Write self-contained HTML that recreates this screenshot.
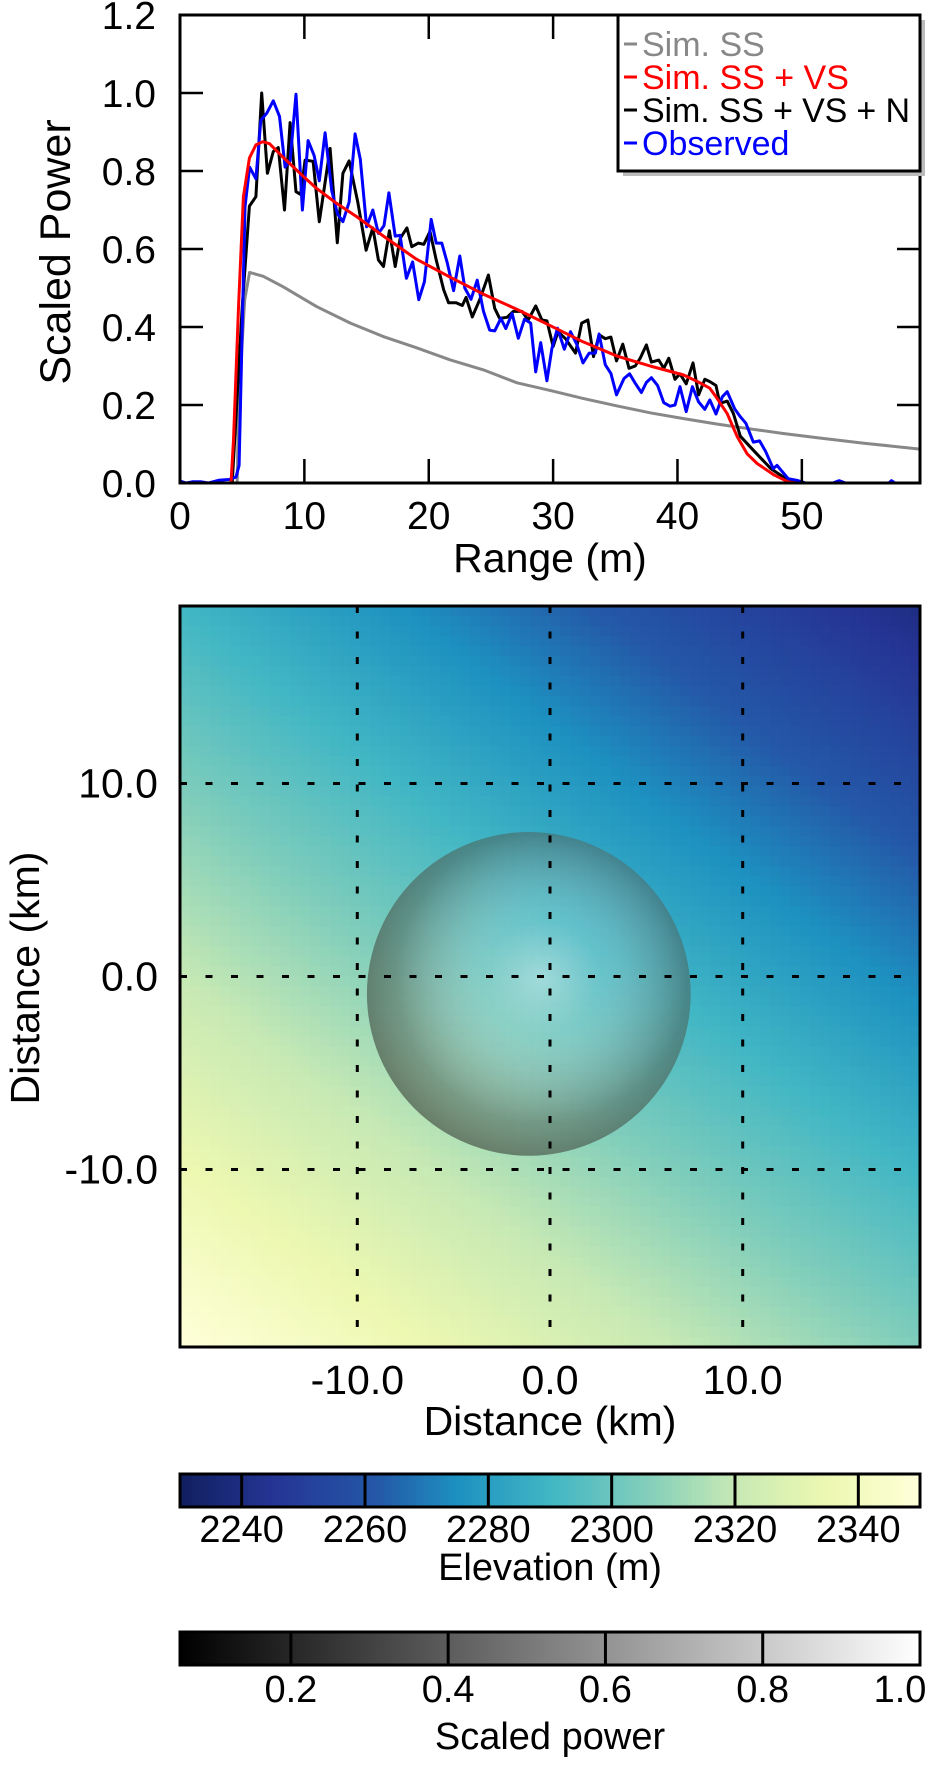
<!DOCTYPE html>
<html><head><meta charset="utf-8"><style>
html,body{margin:0;padding:0;background:#fff;}
svg{display:block;font-family:"Liberation Sans",Arial,sans-serif;}
</style></head><body>
<svg id="fig" width="948" height="1768" viewBox="0 0 948 1768" xmlns="http://www.w3.org/2000/svg">
<defs>
<clipPath id="topclip"><rect x="180" y="15" width="740" height="468"/></clipPath>
<clipPath id="mapclip"><rect x="180" y="606" width="740" height="741"/></clipPath>
<radialGradient id="sphere" cx="0.54" cy="0.45" r="0.6">
<stop offset="0" stop-color="#ffffff" stop-opacity="0.42"/>
<stop offset="0.3" stop-color="#d8e8e8" stop-opacity="0.2"/>
<stop offset="0.75" stop-color="#505a50" stop-opacity="0.5"/>
<stop offset="1" stop-color="#3e483e" stop-opacity="0.72"/>
</radialGradient>
<linearGradient id="cb2grad" x1="0" x2="1" y1="0" y2="0"><stop offset="0" stop-color="#000"/><stop offset="1" stop-color="#fff"/></linearGradient>
</defs>
<g id="topplot"></g>
<g id="mapplot"></g>
<g id="cbars"></g>
</svg>
<script>
// ---------- Top chart data ----------
const grayX=[0,4.6,4.7,5.2,5.6,6.7,8.3,11,13.7,16.4,19,21.7,24.4,27.1,29.8,32.4,35.1,37.8,40.5,43.2,45.8,48.5,51.5,55,59.5];
const grayY=[0,0,0.2,0.47,0.54,0.53,0.503,0.452,0.41,0.375,0.347,0.316,0.29,0.257,0.237,0.217,0.198,0.18,0.165,0.151,0.139,0.127,0.115,0.102,0.087];
const redX=[0,4.1,4.3,4.7,5.1,5.58,6.1,6.65,7.2,8.3,9.65,11,12.6,14.2,16.4,19,21.7,24.4,27.1,29.8,32.4,35.1,37.8,40.5,41.8,42.6,43.1,44,44.8,45.6,46.4,47.8,48.9,49.5];
const redY=[0,0,0.11,0.45,0.734,0.833,0.867,0.875,0.87,0.835,0.794,0.755,0.717,0.683,0.632,0.574,0.528,0.484,0.445,0.403,0.362,0.326,0.30,0.277,0.257,0.243,0.221,0.178,0.119,0.075,0.05,0.02,0.003,0];
const blackX=[0,4.2,5.0,5.58,6.1,6.57,7.03,7.5,7.9,8.4,8.85,9.33,9.7,10.06,10.7,11.2,12.07,12.65,13.1,13.6,14.3,14.96,15.5,15.95,16.36,16.84,17.3,17.7,18.24,18.64,19.17,19.6,20.1,20.6,21.2,21.6,22.2,22.7,23.0,23.5,24.1,24.8,25.3,25.7,26.3,26.8,27.5,28.0,28.6,29.1,29.5,30.0,30.4,31.0,31.8,32.3,32.8,33.25,33.7,34.2,34.65,35.1,35.6,36.1,36.6,37.0,37.5,37.9,38.5,38.9,39.3,39.8,40.2,40.7,41.25,41.7,42.2,42.6,43.1,43.4,44.0,44.5,45.05,46.1,47.5,48.9,49.5];
const blackY=[0,0,0.45,0.71,0.734,1.0,0.794,0.85,0.86,0.70,0.924,0.747,0.74,0.828,0.825,0.67,0.858,0.616,0.794,0.826,0.72,0.597,0.654,0.572,0.555,0.647,0.555,0.627,0.654,0.606,0.615,0.612,0.645,0.572,0.495,0.462,0.462,0.455,0.476,0.426,0.47,0.533,0.448,0.422,0.425,0.44,0.44,0.418,0.454,0.418,0.416,0.35,0.388,0.37,0.333,0.41,0.418,0.324,0.38,0.37,0.374,0.313,0.356,0.294,0.30,0.32,0.354,0.31,0.315,0.294,0.32,0.266,0.28,0.254,0.308,0.226,0.266,0.26,0.25,0.204,0.21,0.178,0.12,0.084,0.037,0.007,0];
const blueX=[0,0.5,1.0,1.7,2.3,3.1,3.95,4.5,4.75,5.23,5.6,6.1,6.5,6.97,7.5,8.0,8.45,8.85,9.33,9.84,10.3,10.78,11.2,11.67,12.2,12.66,13.1,13.6,14.08,14.5,15.0,15.5,15.95,16.4,16.8,17.3,17.7,18.2,18.7,19.2,19.65,20.2,20.6,21.05,21.5,22.0,22.5,22.9,23.4,23.9,24.4,24.9,25.3,25.8,26.2,26.7,27.2,27.7,28.2,28.6,29.0,29.5,29.9,30.35,30.9,31.4,31.9,32.4,32.9,33.4,33.7,34.2,34.65,35.1,35.7,36.15,36.6,37.1,37.5,37.9,38.4,38.9,39.4,39.8,40.2,40.7,41.2,41.7,42.2,42.6,43.1,43.6,44.0,44.6,45.05,45.5,46.1,46.6,47.1,47.7,48.0,48.9,49.6,50.3,52.5,53,53.5,57,57.2,57.5,59.5];
const blueY=[0.005,0,0.003,0.003,0,0.007,0.009,0.015,0.045,0.708,0.81,0.78,0.93,0.948,0.98,0.94,0.81,0.826,0.997,0.70,0.878,0.84,0.775,0.898,0.75,0.69,0.67,0.72,0.895,0.83,0.657,0.70,0.64,0.66,0.744,0.633,0.635,0.525,0.567,0.47,0.516,0.676,0.615,0.615,0.563,0.493,0.582,0.50,0.471,0.52,0.44,0.392,0.39,0.422,0.396,0.435,0.371,0.42,0.41,0.285,0.36,0.262,0.345,0.397,0.343,0.388,0.356,0.308,0.333,0.333,0.382,0.303,0.281,0.226,0.268,0.28,0.256,0.232,0.258,0.27,0.25,0.206,0.197,0.20,0.247,0.183,0.247,0.208,0.189,0.213,0.177,0.221,0.234,0.19,0.17,0.153,0.105,0.108,0.08,0.037,0.045,0.011,0.007,0,0,0.006,0,0,0.006,0,0];
const xTicks=[0,10,20,30,40,50];
const yTicks=[0.0,0.2,0.4,0.6,0.8,1.0,1.2];
const legendLabels=["Sim. SS","Sim. SS + VS","Sim. SS + VS + N","Observed"];
const legendColors=["#888888","#ff0000","#000000","#0000ff"];
// ---------- Map data ----------
const elevCorners=[2290,2240,2350,2305]; // TL, TR, BL, BR elevation (m)
const mapTicks=[-10,0,10];
const craterCenter=[-1.1,-0.9]; // km
const craterRadius=8.4; // km
const cmapVals=[2230,2245,2262,2275,2290,2305,2320,2335,2350];
const cmapCols=["#111f5e","#253494","#2458a8","#1d91c0","#41b6c4","#7fcdbb","#c7e9b4","#edf8b1","#ffffd9"];
const elevTicks=[2240,2260,2280,2300,2320,2340];
const powerTicks=[0.2,0.4,0.6,0.8,1.0];

const NS="http://www.w3.org/2000/svg";
function mk(tag,attrs,parent){const e=document.createElementNS(NS,tag);for(const k in attrs)e.setAttribute(k,attrs[k]);parent.appendChild(e);return e;}
const X0=180,X1=920,XMIN=0,XMAX=59.5;
const Y0=483,Y1=15,YMIN=0,YMAX=1.2;
const sx=v=>X0+(v-XMIN)/(XMAX-XMIN)*(X1-X0);
const sy=v=>Y0-(v-YMIN)/(YMAX-YMIN)*(Y0-Y1);
const topG=document.getElementById('topplot');
const lines=mk('g',{'clip-path':'url(#topclip)'},topG);


function series(xs,ys,col,name){
  const d=xs.map((x,i)=>(i?'L':'M')+sx(x).toFixed(1)+','+sy(ys[i]).toFixed(1)).join('');
  const p=mk('path',{d:d,fill:'none',stroke:col,'stroke-width':3,'stroke-linejoin':'round'},lines);
  
  
}
series(grayX,grayY,'#888888','line-sim-ss');
series(blackX,blackY,'#000000','line-sim-ss-vs-n');
series(blueX,blueY,'#0000ff','line-observed');
series(redX,redY,'#ff0000','line-sim-ss-vs');
const fr=mk('rect',{x:X0,y:Y1,width:X1-X0,height:Y0-Y1,fill:'none',stroke:'#000','stroke-width':3},topG);


xTicks.forEach(t=>{
  const x=sx(t);
  if(t>0){mk('line',{x1:x,x2:x,y1:Y0,y2:Y0-24,stroke:'#000','stroke-width':2.5},topG);
   if(t<40) mk('line',{x1:x,x2:x,y1:Y1,y2:Y1+24,stroke:'#000','stroke-width':2.5},topG);}
  const tx=mk('text',{x:x,y:529,'font-size':39,'text-anchor':'middle',fill:'#000'},topG);tx.textContent=t;
  
  
});
yTicks.forEach(t=>{
  const y=sy(t);
  if(t>0&&t<1.2){mk('line',{x1:X0,x2:X0+23,y1:y,y2:y,stroke:'#000','stroke-width':2.5},topG);
   if(t<0.8) mk('line',{x1:X1,x2:X1-23,y1:y,y2:y,stroke:'#000','stroke-width':2.5},topG);}
  const tx=mk('text',{x:156,y:y+14,'font-size':39,'text-anchor':'end',fill:'#000'},topG);tx.textContent=t.toFixed(1);
  
  
});
let t1=mk('text',{x:550,y:572,'font-size':41,'text-anchor':'middle'},topG);t1.textContent='Range (m)';


let t2=mk('text',{x:0,y:0,'font-size':43,'text-anchor':'middle',transform:'translate(70,252) rotate(-90)'},topG);t2.textContent='Scaled Power';


const lg=mk('g',{},topG);


mk('rect',{x:623,y:20,width:302,height:156,fill:'#bbb'},lg);
mk('rect',{x:618,y:15,width:302,height:156,fill:'#fff',stroke:'#000','stroke-width':3},lg);
legendLabels.forEach((l,i)=>{
  const y=44+i*33;
  mk('line',{x1:624,x2:637,y1:y,y2:y,stroke:legendColors[i],'stroke-width':3},lg);
  const tx=mk('text',{x:642,y:y+12,'font-size':34,fill:legendColors[i]},lg);tx.textContent=l;
  if(i==2) tx.setAttribute('textLength',268);
  
  
});

// ---------- Map ----------
const MX0=180,MX1=920,MY0=606,MY1=1347,MMIN=-19.2,MMAX=19.2;
const mx=v=>MX0+(v-MMIN)/(MMAX-MMIN)*(MX1-MX0);
const my=v=>MY1-(v-MMIN)/(MMAX-MMIN)*(MY1-MY0);
function mix(a,b,f){const pa=[1,3,5].map(i=>parseInt(a.substr(i,2),16)),pb=[1,3,5].map(i=>parseInt(b.substr(i,2),16));return 'rgb('+pa.map((c,i)=>Math.round(c+(pb[i]-c)*f)).join(',')+')';}
function cmap(v){
  if(v<=cmapVals[0])return cmapCols[0];
  for(let i=1;i<cmapVals.length;i++){if(v<=cmapVals[i]){const f=(v-cmapVals[i-1])/(cmapVals[i]-cmapVals[i-1]);return mix(cmapCols[i-1],cmapCols[i],f);}}
  return cmapCols[cmapCols.length-1];
}
function elev(u,v){
  const tl=elevCorners[0],tr=elevCorners[1],bl=elevCorners[2],br=elevCorners[3];
  return tl*(1-u)*(1-v)+tr*u*(1-v)+bl*(1-u)*v+br*u*v;
}
const mapG=document.getElementById('mapplot');
const cells=mk('g',{'clip-path':'url(#mapclip)'},mapG);


const N=74,cw=(MX1-MX0)/N,ch=(MY1-MY0)/N;
for(let j=0;j<N;j++)for(let i=0;i<N;i++){
  mk('rect',{x:(MX0+i*cw).toFixed(2),y:(MY0+j*ch).toFixed(2),width:(cw+0.6).toFixed(2),height:(ch+0.6).toFixed(2),fill:cmap(elev((i+0.5)/N,(j+0.5)/N))},cells);
}
const cr=mk('circle',{cx:mx(craterCenter[0]),cy:my(craterCenter[1]),r:(mx(craterRadius)-mx(0)),fill:'url(#sphere)'},mapG);


mapTicks.forEach(t=>{
  const x=mx(t),y=my(t);
  const gv=mk('line',{x1:x,x2:x,y1:MY0,y2:MY1,stroke:'#000','stroke-width':3,'stroke-dasharray':'7 18.5'},mapG);
  
  
  const gh=mk('line',{x1:MX0,x2:MX1,y1:y,y2:y,stroke:'#000','stroke-width':3,'stroke-dasharray':'7 18.5'},mapG);
  
  
  const lab=t.toFixed(1);
  const tx=mk('text',{x:x,y:1394,'font-size':41,'text-anchor':'middle'},mapG);tx.textContent=lab;
  
  
  const ty=mk('text',{x:158,y:y+14,'font-size':41,'text-anchor':'end'},mapG);ty.textContent=lab;
  
  
});
mk('rect',{x:MX0,y:MY0,width:MX1-MX0,height:MY1-MY0,fill:'none',stroke:'#000','stroke-width':3},mapG);
let t3=mk('text',{x:550,y:1435,'font-size':41,'text-anchor':'middle'},mapG);t3.textContent='Distance (km)';


let t4=mk('text',{x:0,y:0,'font-size':41,'text-anchor':'middle',transform:'translate(39,978) rotate(-90)'},mapG);t4.textContent='Distance (km)';



// ---------- Colorbars ----------
const cbG=document.getElementById('cbars');
const E0=2230,E1=2350;
const ex=v=>180+(v-E0)/(E1-E0)*740;
const cb1=mk('g',{},cbG);


for(let i=0;i<185;i++){mk('rect',{x:(180+i*4).toFixed(1),y:1474,width:4.6,height:33,fill:cmap(E0+(i+0.5)/185*(E1-E0))},cb1);}
elevTicks.forEach(t=>{
  mk('line',{x1:ex(t),x2:ex(t),y1:1474,y2:1507,stroke:'#000','stroke-width':3},cb1);
  const tx=mk('text',{x:ex(t),y:1542,'font-size':38,'text-anchor':'middle'},cb1);tx.textContent=t;
  
  
});
mk('rect',{x:180,y:1474,width:740,height:33,fill:'none',stroke:'#000','stroke-width':3},cb1);
let t5=mk('text',{x:550,y:1580,'font-size':38,'text-anchor':'middle'},cb1);t5.textContent='Elevation (m)';


const P0=0.059,P1=1.0;
const px=v=>180+(v-P0)/(P1-P0)*740;
const cb2=mk('g',{},cbG);


mk('rect',{x:180,y:1632,width:740,height:33,fill:'url(#cb2grad)'},cb2);
powerTicks.forEach(t=>{
  if(t<1) mk('line',{x1:px(t),x2:px(t),y1:1632,y2:1665,stroke:'#000','stroke-width':3},cb2);
  const tx=mk('text',{x:Math.min(px(t),900),y:1702,'font-size':38,'text-anchor':'middle'},cb2);tx.textContent=t.toFixed(1);
  
  
});
mk('rect',{x:180,y:1632,width:740,height:33,fill:'none',stroke:'#000','stroke-width':3},cb2);
let t6=mk('text',{x:550,y:1749,'font-size':38,'text-anchor':'middle'},cb2);t6.textContent='Scaled power';


</script>
</body></html>
